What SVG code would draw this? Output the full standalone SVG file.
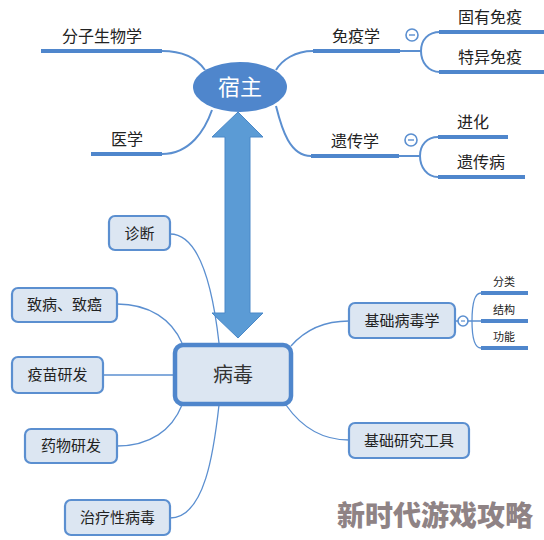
<svg xmlns="http://www.w3.org/2000/svg" width="544" height="540" viewBox="0 0 544 540">
<style>
text{font-family:"Noto Sans CJK SC","Noto Sans",sans-serif;fill:#222;text-anchor:middle}
.t16{font-size:16px}
.t15{font-size:15px}
.t11{font-size:11px}
.ul{stroke:#4f86cc;stroke-width:4;fill:none}
.c{stroke:#5b8fd0;stroke-width:2;fill:none}
.thin{stroke:#5b8fd0;stroke-width:1.3;fill:none}
.box{fill:#dce6f2;stroke:#5b8fd0;stroke-width:2.2}
.minus{fill:#fff;stroke:#5b8fd0;stroke-width:1.6}
</style>
<rect width="544" height="540" fill="#fff"/>
<g id="connectors">
<path class="c" d="M162 51 C185 51 198 60 205 70"/>
<path class="c" d="M162 154 C190 154 205 130 212 110"/>
<path class="c" d="M313 51 C295 51 282 60 276 70"/>
<path class="c" d="M311 156 C290 156 282 130 276 106"/>
<path class="c" d="M400 51 H421 M421 51 C421 40 428 32 440 32 M421 51 C421 62 428 72 440 72"/>
<path class="c" d="M399 156 H420 M420 156 C420 145 427 137 438 137 M420 156 C420 167 427 177 438 177"/>
<path class="thin" d="M170 234 C200 234 213 290 219 343"/>
<path class="thin" d="M117 304 C150 304 172 320 182 343"/>
<path class="thin" d="M103 375 H173"/>
<path class="thin" d="M117 446 C150 446 172 430 182 405"/>
<path class="thin" d="M170 518 C205 518 214 450 219 405"/>
<path class="thin" d="M291 346 C305 330 325 321 349 321"/>
<path class="thin" d="M286 405 C300 425 320 440 349 440"/>
<path class="thin" d="M455 321 H472 M472 321 C472 305 474 293 481 293 M472 321 H481 M472 321 C472 337 474 348 481 348"/>
</g>
<g id="arrow">
<path d="M238 112 L263 137 L250 137 L250 313 L263 313 L238 338 L212 313 L225 313 L225 137 L212 137 Z" fill="#5b9bd5" stroke="#4a88c8" stroke-width="1"/>
</g>
<g id="host">
<ellipse cx="240" cy="87" rx="47" ry="25" fill="#4f86cc"/>
<text x="240" y="95" style="font-size:22px;fill:#fff">宿主</text>
</g>
<g id="n-molbio">
<path class="ul" d="M41 51 H162"/>
<text class="t16" x="102" y="42">分子生物学</text>
</g>
<g id="n-med">
<path class="ul" d="M91 154 H162"/>
<text class="t16" x="127" y="145">医学</text>
</g>
<g id="n-immuno">
<path class="ul" d="M313 51 H400"/>
<text class="t16" x="356" y="42">免疫学</text>
<circle class="minus" cx="412" cy="35" r="6"/>
<path d="M409 35 H415" stroke="#5b8fd0" stroke-width="1.4"/>
</g>
<g id="n-innate">
<path class="ul" d="M439 32 H544"/>
<text class="t16" x="490" y="23">固有免疫</text>
</g>
<g id="n-specific">
<path class="ul" d="M439 72 H544"/>
<text class="t16" x="490" y="63">特异免疫</text>
</g>
<g id="n-genetics">
<path class="ul" d="M311 156 H399"/>
<text class="t16" x="355" y="147">遗传学</text>
<circle class="minus" cx="411" cy="140" r="6"/>
<path d="M408 140 H414" stroke="#5b8fd0" stroke-width="1.4"/>
</g>
<g id="n-evolution">
<path class="ul" d="M438 137 H508"/>
<text class="t16" x="473" y="128">进化</text>
</g>
<g id="n-hereditary">
<path class="ul" d="M438 177 H525"/>
<text class="t16" x="481" y="168">遗传病</text>
</g>
<g id="virus">
<rect x="175" y="345" width="116" height="59" rx="8" fill="#dce6f2" stroke="#4f86cc" stroke-width="4.5"/>
<text x="233" y="382" style="font-size:20px;fill:#333">病毒</text>
</g>
<g id="n-diag">
<rect class="box" x="109" y="216" width="61" height="34" rx="6"/>
<text class="t15" x="139.5" y="239">诊断</text>
</g>
<g id="n-cause">
<rect class="box" x="12" y="288" width="105" height="34" rx="6"/>
<text class="t15" x="64.5" y="310">致病、致癌</text>
</g>
<g id="n-vaccine">
<rect class="box" x="12" y="357" width="91" height="36" rx="6"/>
<text class="t15" x="57.5" y="380">疫苗研发</text>
</g>
<g id="n-drug">
<rect class="box" x="25" y="429" width="92" height="34" rx="6"/>
<text class="t15" x="71" y="451">药物研发</text>
</g>
<g id="n-therapy">
<rect class="box" x="65" y="500" width="105" height="35" rx="6"/>
<text class="t15" x="117.5" y="523">治疗性病毒</text>
</g>
<g id="n-basicvir">
<rect class="box" x="349" y="303" width="106" height="35" rx="6"/>
<text class="t15" x="402" y="326">基础病毒学</text>
<circle class="minus" cx="463" cy="321" r="5"/>
<path d="M461 321 H465" stroke="#5b8fd0" stroke-width="1.2"/>
</g>
<g id="n-class">
<path class="ul" d="M481 293 H528" stroke-width="3"/>
<text class="t11" x="504" y="286">分类</text>
</g>
<g id="n-struct">
<path class="ul" d="M481 321 H528" stroke-width="3"/>
<text class="t11" x="504" y="314">结构</text>
</g>
<g id="n-func">
<path class="ul" d="M481 348 H528" stroke-width="3"/>
<text class="t11" x="504" y="341">功能</text>
</g>
<g id="n-tools">
<rect class="box" x="349" y="423" width="120" height="35" rx="6"/>
<text class="t15" x="409" y="446">基础研究工具</text>
</g>
<text x="435" y="526" style="font-size:28px;font-weight:900;fill:#8f8385">新时代游戏攻略</text>
</svg>
